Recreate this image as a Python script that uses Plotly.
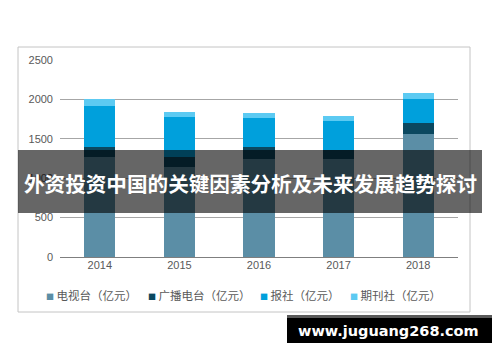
import plotly.graph_objects as go

years = ["2014", "2015", "2016", "2017", "2018"]
series_names = ["电视台（亿元）", "广播电台（亿元）", "报社（亿元）", "期刊社（亿元）"]
tv = [1270, 1140, 1240, 1240, 1557]
radio = [130, 135, 160, 115, 147]
newspaper = [516, 500, 364, 367, 301]
magazine = [84, 71, 59, 67, 72]
y_ticks = [0, 500, 1000, 1500, 2000, 2500]
banner_text = "外资投资中国的关键因素分析及未来发展趋势探讨"
watermark_text = "www.juguang268.com"

colors = ["#5b8ea6", "#0b4860", "#00a0dc", "#5ccaf2"]
series_values = [tv, radio, newspaper, magazine]

W, H = 500, 362
L, R, T, B = 60, 458, 60, 257


def px(x):
    return (x - L) / (R - L)


def py(y):
    return (B - y) / (B - T)


fig = go.Figure()
for name, vals, col in zip(series_names, series_values, colors):
    fig.add_trace(go.Bar(x=years, y=vals, name=name, marker=dict(color=col, line=dict(width=0)),
                         width=0.39, showlegend=False))

fig.update_layout(
    width=W, height=H,
    margin=dict(l=L, r=W - R, t=T, b=H - B),
    barmode="stack",
    plot_bgcolor="white", paper_bgcolor="white",
    font=dict(family="Liberation Sans, Arial, sans-serif", size=11, color="#595959"),
    xaxis=dict(showgrid=False, ticks="", showline=False, tickfont=dict(size=11, color="#595959")),
    yaxis=dict(range=[0, 2500], tickvals=y_ticks, showgrid=True, gridcolor="#a6a6a6", gridwidth=1,
               zeroline=True, zerolinecolor="#7f7f7f", zerolinewidth=1, showline=False,
               tickfont=dict(size=11, color="#595959"), ticklabelstandoff=6),
)

shapes = []
# outer frame
shapes.append(dict(type="rect", xref="paper", yref="paper", x0=px(18), x1=px(470), y0=py(47), y1=py(312),
                   line=dict(color="#c4c4c4", width=1), fillcolor="rgba(0,0,0,0)", layer="below"))
# banner overlay
shapes.append(dict(type="rect", xref="paper", yref="paper", x0=px(18), x1=px(482), y0=py(150), y1=py(213),
                   line=dict(width=0), fillcolor="rgba(0,0,0,0.6)", layer="above"))
# watermark box
shapes.append(dict(type="rect", xref="paper", yref="paper", x0=px(287), x1=px(492), y0=py(315), y1=py(318),
                   line=dict(width=0), fillcolor="#5a5a5a", layer="above"))
shapes.append(dict(type="rect", xref="paper", yref="paper", x0=px(287), x1=px(492), y0=py(318), y1=py(343),
                   line=dict(width=0), fillcolor="#000000", layer="above"))
fig.update_layout(shapes=shapes)

annotations = []
annotations.append(dict(text="<b>" + banner_text + "</b>", xref="paper", yref="paper", x=px(250), y=py(183),
                        showarrow=False, xanchor="center", yanchor="middle",
                        font=dict(family="Noto Sans CJK SC", size=20.6, color="white")))
annotations.append(dict(text="<b>" + watermark_text + "</b>", xref="paper", yref="paper", x=px(388), y=py(331),
                        showarrow=False, xanchor="center", yanchor="middle",
                        font=dict(family="DejaVu Sans, Verdana, sans-serif", size=14.5, color="white")))
legend_x = [44, 146, 258, 348]
for name, col, lx in zip(series_names, colors, legend_x):
    annotations.append(dict(text=f"<span style='color:{col};font-size:8px'>■</span> {name}",
                            xref="paper", yref="paper", x=px(lx), y=py(295), showarrow=False,
                            xanchor="left", yanchor="middle",
                            font=dict(family="Noto Sans CJK SC", size=11.5, color="#595959")))
fig.update_layout(annotations=annotations)

fig.write_html("out.html", config={"displayModeBar": False},
               post_script="document.body.style.margin='0px';")
